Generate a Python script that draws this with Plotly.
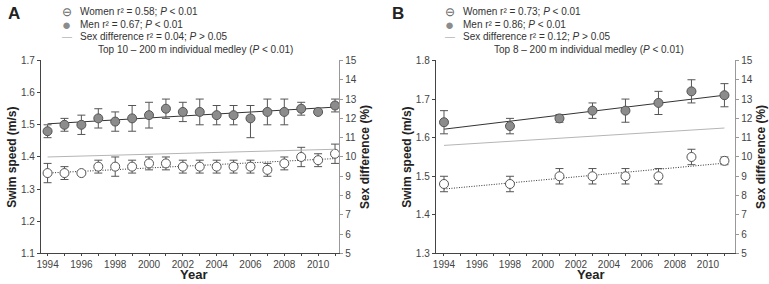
import plotly.graph_objects as go

W, H = 769, 284
def px(x): return x / W
def py(y): return 1 - y / H

FONT = "Arial, Liberation Sans, sans-serif"

# ---------------- Panel A data (Top 10) ----------------
years_a = list(range(1994, 2012))
men_a = [1.48, 1.50, 1.50, 1.52, 1.51, 1.52, 1.53, 1.55, 1.54, 1.54, 1.53, 1.53, 1.52, 1.54, 1.54, 1.55, 1.54, 1.56]
men_a_hi = [1.50, 1.52, 1.53, 1.55, 1.54, 1.56, 1.57, 1.58, 1.57, 1.58, 1.56, 1.56, 1.56, 1.58, 1.58, 1.57, 1.54, 1.58]
men_a_lo = [1.46, 1.48, 1.47, 1.49, 1.48, 1.48, 1.49, 1.52, 1.51, 1.50, 1.50, 1.50, 1.46, 1.50, 1.50, 1.53, 1.54, 1.54]
women_a = [1.35, 1.35, 1.35, 1.37, 1.37, 1.37, 1.38, 1.38, 1.37, 1.37, 1.37, 1.37, 1.37, 1.36, 1.38, 1.40, 1.39, 1.41]
women_a_hi = [1.38, 1.37, 1.35, 1.39, 1.40, 1.39, 1.40, 1.40, 1.39, 1.39, 1.39, 1.39, 1.39, 1.38, 1.40, 1.43, 1.41, 1.44]
women_a_lo = [1.32, 1.33, 1.35, 1.35, 1.34, 1.35, 1.36, 1.36, 1.35, 1.35, 1.35, 1.35, 1.35, 1.34, 1.36, 1.37, 1.37, 1.38]
trend_years_a = [1994, 2011]
men_trend_a = [1.503, 1.555]
women_trend_a = [1.35, 1.395]
sexdiff_trend_a = [10.0, 10.4]

# ---------------- Panel B data (Top 8) ----------------
years_b = [1994, 1998, 2001, 2003, 2005, 2007, 2009, 2011]
men_b = [1.64, 1.63, 1.65, 1.67, 1.67, 1.69, 1.72, 1.71]
men_b_hi = [1.67, 1.65, 1.66, 1.69, 1.70, 1.72, 1.75, 1.74]
men_b_lo = [1.61, 1.61, 1.64, 1.65, 1.64, 1.66, 1.69, 1.68]
women_b = [1.48, 1.48, 1.50, 1.50, 1.50, 1.50, 1.55, 1.54]
women_b_hi = [1.50, 1.50, 1.52, 1.52, 1.52, 1.52, 1.57, 1.55]
women_b_lo = [1.46, 1.46, 1.48, 1.48, 1.48, 1.48, 1.53, 1.53]
trend_years_b = [1994, 2011]
men_trend_b = [1.622, 1.71]
women_trend_b = [1.467, 1.534]
sexdiff_trend_b = [10.6, 11.5]

x_ticks = list(range(1994, 2011, 2))

legend_a = ["Women r² = 0.58; <i>P</i> < 0.01", "Men r² = 0.67; <i>P</i> < 0.01",
            "Sex difference r² = 0.04; <i>P</i> > 0.05"]
legend_b = ["Women r² = 0.73; <i>P</i> < 0.01", "Men r² = 0.86; <i>P</i> < 0.01",
            "Sex difference r² = 0.12; <i>P</i> > 0.05"]
title_a = "Top 10 – 200 m individual medley (<i>P</i> < 0.01)"
title_b = "Top 8 – 200 m individual medley (<i>P</i> < 0.01)"

DARK = "#444444"
MEN_FILL = "#8c8c8c"
EB = "#555555"
SEXDIFF = "#b5b5b5"

fig = go.Figure()

def add_panel(xa, ya, ya2, years, men, mhi, mlo, women, whi, wlo, tyears, mtr, wtr, str_):
    fig.add_trace(go.Scatter(x=tyears, y=str_, mode="lines", xaxis=xa, yaxis=ya2,
                             line=dict(color=SEXDIFF, width=1), showlegend=False))
    fig.add_trace(go.Scatter(x=tyears, y=mtr, mode="lines", xaxis=xa, yaxis=ya,
                             line=dict(color="#333333", width=1), showlegend=False))
    fig.add_trace(go.Scatter(x=tyears, y=wtr, mode="lines", xaxis=xa, yaxis=ya,
                             line=dict(color="#333333", width=1, dash="1px,1.5px"),
                             showlegend=False))
    fig.add_trace(go.Scatter(
        x=years, y=men, mode="markers", xaxis=xa, yaxis=ya, showlegend=False,
        marker=dict(size=9, color=MEN_FILL, line=dict(color="#555555", width=1)),
        error_y=dict(type="data", symmetric=False,
                     array=[h - v for h, v in zip(mhi, men)],
                     arrayminus=[v - l for v, l in zip(men, mlo)],
                     color=EB, thickness=1, width=4)))
    fig.add_trace(go.Scatter(
        x=years, y=women, mode="markers", xaxis=xa, yaxis=ya, showlegend=False,
        marker=dict(size=9, color="white", line=dict(color="#555555", width=1)),
        error_y=dict(type="data", symmetric=False,
                     array=[h - v for h, v in zip(whi, women)],
                     arrayminus=[v - l for v, l in zip(women, wlo)],
                     color=EB, thickness=1, width=4)))

add_panel("x", "y", "y2", years_a, men_a, men_a_hi, men_a_lo,
          women_a, women_a_hi, women_a_lo, trend_years_a, men_trend_a,
          women_trend_a, sexdiff_trend_a)
add_panel("x2", "y3", "y4", years_b, men_b, men_b_hi, men_b_lo,
          women_b, women_b_hi, women_b_lo, trend_years_b, men_trend_b,
          women_trend_b, sexdiff_trend_b)

ydom = [py(258.5), py(57.7)]
tickfont = dict(family=FONT, size=10, color="#444444")

def xax(domain, rng, anchor):
    return dict(domain=domain, range=rng, anchor=anchor, tickvals=x_ticks,
                ticks="outside", ticklen=2, tickcolor=DARK, showline=True,
                linecolor=DARK, linewidth=1, showgrid=False, zeroline=False,
                tickfont=tickfont,
                minor=dict(dtick=1, tick0=1994, ticks="outside", ticklen=2, tickcolor=DARK))

def yl(rng, anchor):
    return dict(domain=ydom, range=rng, anchor=anchor, dtick=0.1, tickformat=".1f",
                ticks="outside", ticklen=3, tickcolor=DARK, showline=True,
                linecolor=DARK, linewidth=1, showgrid=False, zeroline=False,
                tickfont=tickfont)

def yr(over, anchor):
    return dict(overlaying=over, side="right", range=[5, 15], dtick=1, anchor=anchor,
                ticks="outside", ticklen=3, tickcolor="#999999", showline=True,
                linecolor="#999999", linewidth=1, showgrid=False, zeroline=False,
                tickfont=tickfont)

def txt(text, x, y, size, color="#333333", anchor="left", angle=0):
    return dict(text=text, x=px(x), y=py(y), xanchor=anchor, yanchor="middle",
                textangle=angle, xref="paper", yref="paper", showarrow=False,
                font=dict(family=FONT, size=size, color=color))

annotations = []
for lab, sx, rows in ((legend_a, 63, (7, 20, 33)), (legend_b, 448, (7, 20, 33))):
    annotations.append(txt("⊖", sx, rows[0], 12, "#666666", "center"))
    annotations.append(txt("●", sx, rows[1], 15, MEN_FILL, "center"))
    annotations.append(txt("—", sx, rows[2], 10, SEXDIFF, "center"))
    for label, yy in zip(lab, rows):
        annotations.append(txt(label, sx + 11, yy, 10, "#333333", "left"))

annotations += [
    txt("<b>A</b>", 2, 9, 17, "#222222"),
    txt("<b>B</b>", 388, 9, 17, "#222222"),
    txt(title_a, 192, 46, 10, "#333333", "center"),
    txt(title_b, 588, 46, 10, "#333333", "center"),
    txt("<b>Swim speed (m/s)</b>", 8, 158, 12, "#222222", "center", -90),
    txt("<b>Swim speed (m/s)</b>", 405, 158, 12, "#222222", "center", -90),
    txt("<b>Sex difference (%)</b>", 363, 158, 12, "#222222", "center", -90),
    txt("<b>Sex difference (%)</b>", 761, 158, 12, "#222222", "center", -90),
    txt("<b>Year</b>", 190, 280, 13, "#222222", "center"),
    txt("<b>Year</b>", 590, 280, 13, "#222222", "center"),
]

fig.update_layout(
    width=W, height=H, margin=dict(l=0, r=0, t=0, b=0),
    paper_bgcolor="white", plot_bgcolor="white",
    font=dict(family=FONT, size=10, color="#333333"),
    xaxis=xax([px(37), px(337)], [1993.6, 2011.25], "y"),
    yaxis=yl([1.1, 1.7], "x"),
    yaxis2=yr("y", "x"),
    xaxis2=xax([px(434), px(735)], [1993.5, 2011.65], "y3"),
    yaxis3=yl([1.3, 1.8], "x2"),
    yaxis4=yr("y3", "x2"),
    annotations=annotations,
    showlegend=False,
)

fig.write_html("out.html", config={"displayModeBar": False},
               post_script="document.body.style.margin='0px';")
